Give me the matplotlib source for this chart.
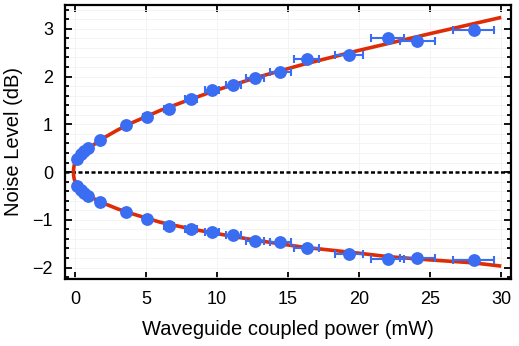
import matplotlib
matplotlib.use("Agg")
import matplotlib.pyplot as plt
from matplotlib.ticker import MultipleLocator

plt.rcParams['font.family'] = ['Liberation Sans', 'DejaVu Sans']

# measured data (power in mW, noise in dB)
power = [0.14, 0.40, 0.66, 0.90, 1.76, 3.59, 5.07, 6.62, 8.17, 9.65, 11.15,
         12.68, 14.46, 16.3, 19.3, 22.0, 24.1, 28.05]
power_err = [0.01, 0.02, 0.03, 0.05, 0.09, 0.18, 0.25, 0.33, 0.41, 0.50, 0.55,
             0.65, 0.75, 0.85, 1.00, 1.14, 1.23, 1.43]
noise_upper = [0.28, 0.37, 0.44, 0.50, 0.67, 0.98, 1.16, 1.33, 1.53, 1.72, 1.82,
               1.98, 2.10, 2.36, 2.46, 2.80, 2.75, 2.97]
noise_lower = [-0.30, -0.37, -0.44, -0.50, -0.63, -0.83, -0.98, -1.12, -1.20, -1.26,
               -1.32, -1.44, -1.47, -1.60, -1.72, -1.82, -1.81, -1.84]

# fitted model curves
fit_upper_x = [-0.10, -0.08, -0.04, 0.05, 0.20, 0.45, 0.75, 1.0, 1.5, 2.0, 3.0, 4.0,
               6.0, 8.0, 10.0, 13.0, 16.0, 20.0, 25.0, 30.0]
fit_upper_y = [0.00, 0.08, 0.15, 0.22, 0.30, 0.38, 0.45, 0.50, 0.61, 0.71, 0.88, 1.03,
               1.29, 1.51, 1.72, 2.00, 2.25, 2.55, 2.90, 3.24]
fit_lower_x = [-0.10, -0.08, -0.04, 0.05, 0.20, 0.45, 0.75, 1.0, 1.5, 2.0, 3.0, 4.0,
               6.0, 8.0, 10.0, 13.0, 16.0, 20.0, 22.0, 25.0, 28.0, 30.0]
fit_lower_y = [0.00, -0.08, -0.15, -0.22, -0.30, -0.37, -0.44, -0.50, -0.58, -0.65,
               -0.77, -0.87, -1.05, -1.18, -1.29, -1.44, -1.57, -1.70, -1.77, -1.84,
               -1.90, -1.97]

xticks = [0, 5, 10, 15, 20, 25, 30]
yticks = [-2, -1, 0, 1, 2, 3]

blue = '#3a6df2'
red = '#dd2c06'

fig = plt.figure(figsize=(5.19, 3.46), dpi=100)
ax = fig.add_axes([0.125, 0.1936, 0.86, 0.792])

ax.set_xlim(-0.7, 30.7)
ax.set_ylim(-2.24, 3.5)

ax.axhline(0, color='black', lw=1.8, ls=(0, (1.6, 1.0)), zorder=2)

ax.plot(fit_upper_x, fit_upper_y, color=red, lw=2.6, zorder=3, solid_capstyle='butt')
ax.plot(fit_lower_x, fit_lower_y, color=red, lw=2.6, zorder=3, solid_capstyle='butt')

for ys in (noise_upper, noise_lower):
    ax.errorbar(power, ys, xerr=power_err, fmt='o', color=blue, ms=8.2,
                mec=blue, ecolor=blue, elinewidth=1.5, capsize=3, capthick=1.5,
                zorder=4)

ax.set_xticks(xticks)
ax.set_yticks(yticks)
ax.set_xticklabels([str(v) for v in xticks])
ax.set_yticklabels(['\u2212' + str(-v) if v < 0 else str(v) for v in yticks])
ax.yaxis.set_minor_locator(MultipleLocator(0.2))
ax.tick_params(which='both', direction='in', top=True, right=True, width=1.3,
               labelsize=13, colors='black')
ax.tick_params(which='major', length=5)
ax.tick_params(which='minor', length=3)
ax.tick_params(axis='x', which='minor', top=False, bottom=False)
ax.tick_params(axis='x', pad=8.5)
ax.tick_params(axis='y', pad=8.5)

ax.grid(True, which='major', axis='x', color='#f1f1f1', lw=0.6, zorder=0)
ax.grid(True, which='both', axis='y', color='#f3f3f3', lw=0.6, zorder=0)

for s in ax.spines.values():
    s.set_linewidth(1.6)

ax.set_xlabel('Waveguide coupled power (mW)', fontsize=14.5, labelpad=9)
ax.set_ylabel('Noise Level (dB)', fontsize=14.5, labelpad=7)

fig.savefig('out.png', dpi=100)
